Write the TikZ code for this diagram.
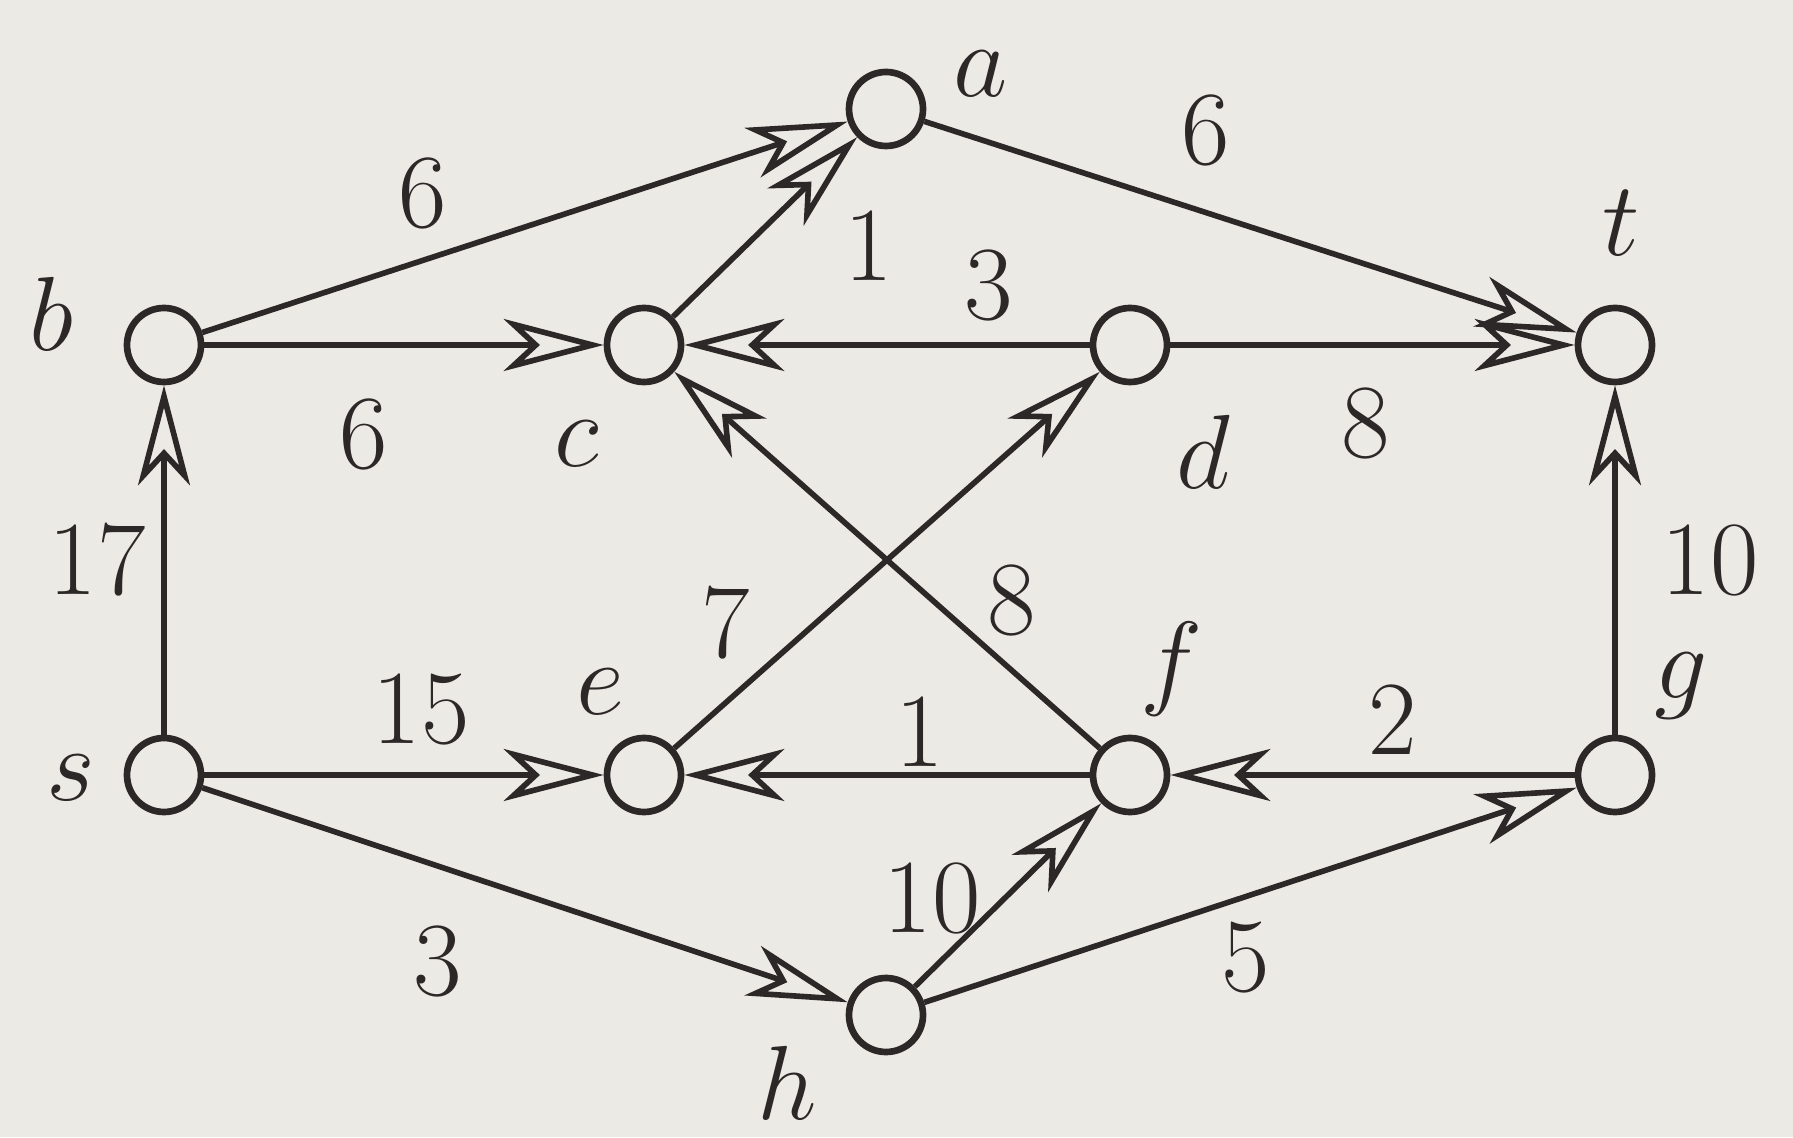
\RequirePackage{fix-cm}
\documentclass[tikz,border=0pt]{standalone}
\usepackage{tikz}
\usepackage{xcolor}
\usetikzlibrary{arrows.meta, positioning}
\definecolor{paper}{RGB}{236,234,229}
\definecolor{ink}{RGB}{45,40,40}
\tikzstyle{vertex} = [circle, 
draw=ink, 
line width=1.9pt, 
minimum size=0.74cm, 
inner sep=0pt, 
fill=paper]
\tikzstyle{arrow} = [line width=1.6pt, draw=ink,
-{Stealth[open, length=1.0cm, width=0.52cm, inset=0.28cm, line width=1.6pt]}]
\tikzstyle{weight} = [font=\fontsize{30}{36}\selectfont, text=ink, inner sep=0pt]
\tikzstyle{letter} = [font=\fontsize{30}{36}\selectfont, text=ink, inner sep=0pt]

\begin{document}
\begin{tikzpicture}[node distance=4.8cm, on grid]

        % --- Fondo ---
        \fill [paper] (0,0) rectangle (17.93,11.37);
        \useasboundingbox (0,0) rectangle (17.93,11.37);

        % --- Vertices ---
        \node (s) [vertex] at (1.64,3.62) {};
        \node (b) [vertex, above=4.3cm of s] {};
        \node (c) [vertex, right=of b] {};
        \node (d) [vertex, right=4.86cm of c] {};
        \node (t) [vertex, right=4.85cm of d] {};
        \node (e) [vertex, right=of s] {};
        \node (f) [vertex, right=4.86cm of e] {};
        \node (g) [vertex, right=4.85cm of f] {};
        \node (a) [vertex, above right=2.36cm and 2.42cm of c] {};
        \node (h) [vertex, below right=2.4cm and 2.42cm of e] {};

        % --- Nombres ---
        \node (la) [letter] at (9.81,10.63) {$a$};
        \node (lb) [letter] at (0.51,8.23) {$b$};
        \node (lc) [letter] at (5.77,6.93) {$c$};
        \node (ld) [letter] at (12.03,6.85) {$d$};
        \node (lt) [letter] at (16.21,9.14) {$t$};
        \node (ls) [letter] at (0.71,3.59) {$s$};
        \node (le) [letter] at (6.00,4.45) {$e$};
        \node (lf) [letter] at (11.72,4.68) {$f$};
        \node (lg) [letter] at (16.81,4.51) {$g$};
        \node (lh) [letter] at (7.87,0.54) {$h$};

        % --- Arcos ---
        \draw [arrow] (s) -- (b);
        \draw [arrow] (b) -- (a);
        \draw [arrow] (b) -- (c);
        \draw [arrow] (c) -- (a);
        \draw [arrow] (d) -- (c);
        \draw [arrow] (a) -- (t);
        \draw [arrow] (d) -- (t);
        \draw [arrow] (e) -- (d);
        \draw [arrow] (f) -- (c);
        \draw [arrow] (s) -- (e);
        \draw [arrow] (f) -- (e);
        \draw [arrow] (g) -- (f);
        \draw [arrow] (g) -- (t);
        \draw [arrow] (s) -- (h);
        \draw [arrow] (h) -- (f);
        \draw [arrow] (h) -- (g);

        % --- Capacidades ---
        \node (w-ba) [weight] at (4.23,9.43) {6};
        \node (w-bc) [weight] at (3.64,7.02) {6};
        \node (w-ca) [weight] at (8.69,8.91) {1};
        \node (w-dc) [weight] at (9.89,8.51) {3};
        \node (w-at) [weight] at (12.06,10.06) {6};
        \node (w-dt) [weight] at (13.66,7.14) {8};
        \node (w-sb) [weight] at (0.97,5.77) {17};
        \node (w-ed) [weight] at (7.26,5.14) {7};
        \node (w-fc) [weight] at (10.12,5.37) {8};
        \node (w-se) [weight] at (4.21,4.28) {15};
        \node (w-fe) [weight] at (9.20,4.05) {1};
        \node (w-gf) [weight] at (13.93,4.17) {2};
        \node (w-gt) [weight] at (17.10,5.77) {10};
        \node (w-sh) [weight] at (4.38,1.76) {3};
        \node (w-hf) [weight] at (9.32,2.39) {10};
        \node (w-hg) [weight] at (12.46,1.79) {5};

    \end{tikzpicture}
\end{document}
